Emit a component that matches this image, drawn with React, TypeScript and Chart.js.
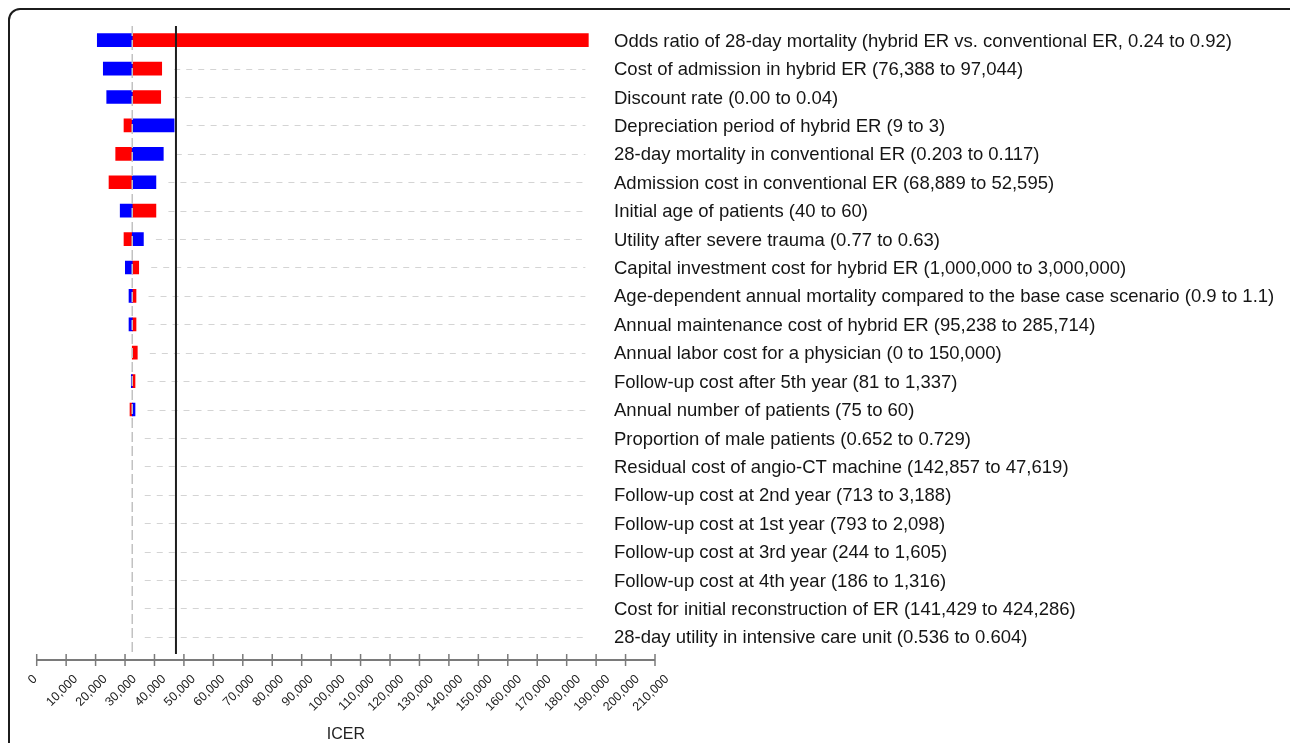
import React, { useEffect, useRef } from "react";
import { Chart, registerables } from "chart.js";

Chart.register(...registerables);

// ---------- data ----------
const categories: string[] = [
  "Odds ratio of 28-day mortality (hybrid ER vs. conventional ER, 0.24 to 0.92)",
  "Cost of admission in hybrid ER (76,388 to 97,044)",
  "Discount rate (0.00 to 0.04)",
  "Depreciation period of hybrid ER (9 to 3)",
  "28-day mortality in conventional ER (0.203 to 0.117)",
  "Admission cost in conventional ER (68,889 to 52,595)",
  "Initial age of patients (40 to 60)",
  "Utility after severe trauma (0.77 to 0.63)",
  "Capital investment cost for hybrid ER (1,000,000 to 3,000,000)",
  "Age-dependent annual mortality compared to the base case scenario (0.9 to 1.1)",
  "Annual maintenance cost of hybrid ER (95,238 to 285,714)",
  "Annual labor cost for a physician (0 to 150,000)",
  "Follow-up cost after 5th year (81 to 1,337)",
  "Annual number of patients (75 to 60)",
  "Proportion of male patients (0.652 to 0.729)",
  "Residual cost of angio-CT machine (142,857 to 47,619)",
  "Follow-up cost at 2nd year (713 to 3,188)",
  "Follow-up cost at 1st year (793 to 2,098)",
  "Follow-up cost at 3rd year (244 to 1,605)",
  "Follow-up cost at 4th year (186 to 1,316)",
  "Cost for initial reconstruction of ER (141,429 to 424,286)",
  "28-day utility in intensive care unit (0.536 to 0.604)",
];

const baseIcer = 32450;
const thresholdIcer = 47300;

// ICER when the parameter takes its first listed value (blue); null = no visible change
const firstValueIcer: (number | null)[] = [
  20580, 22620, 23780, 46670, 43000, 40490, 28360, 36240, 30100, 31350, 31350,
  null, 32130, 33390, null, null, null, null, null, null, null, null,
];

// ICER when the parameter takes its second listed value (red); null = no visible change
const secondValueIcer: (number | null)[] = [
  187360, 42460, 42120, 29650, 26830, 24560, 40490, 29650, 34650, 33730, 33730,
  34170, 33390, 31690, null, null, null, null, null, null, null, null,
];

const xMin = 0;
const xMax = 210000;
const xStep = 10000;

const FONT = '"Liberation Sans", Arial, Helvetica, sans-serif';

const toRange = (arr: (number | null)[]) =>
  arr.map((v) => (v === null ? null : [baseIcer, v]));

const overlayPlugin = {
  id: "tornadoOverlay",
  beforeDatasetsDraw(chart: any) {
    const { ctx, scales } = chart;
    const x = scales.x;
    const y = scales.y;
    const all = [...firstValueIcer, ...secondValueIcer].filter(
      (v) => v !== null
    ) as number[];
    const endPx = x.getPixelForValue(Math.max(...all)) - 3;
    ctx.save();
    ctx.strokeStyle = "#d4d4d4";
    ctx.lineWidth = 1;
    ctx.setLineDash([6, 6]);
    categories.forEach((_, i) => {
      const yy = Math.round(y.getPixelForValue(i)) + 0.5;
      const start =
        x.getPixelForValue(
          Math.max(baseIcer, firstValueIcer[i] ?? baseIcer, secondValueIcer[i] ?? baseIcer)
        ) + 12.5;
      if (start >= endPx) return;
      ctx.beginPath();
      ctx.moveTo(start, yy);
      ctx.lineTo(endPx, yy);
      ctx.stroke();
    });
    ctx.restore();
  },
  afterDatasetsDraw(chart: any) {
    const { ctx, scales, chartArea } = chart;
    const x = scales.x;
    const y = scales.y;
    ctx.save();
    // base case vertical dashed line
    const bx = x.getPixelForValue(baseIcer);
    ctx.strokeStyle = "#c2c2c2";
    ctx.lineWidth = 1.5;
    ctx.setLineDash([10, 4]);
    ctx.beginPath();
    ctx.moveTo(bx, chartArea.top);
    ctx.lineTo(bx, chartArea.bottom + 2);
    ctx.stroke();
    // threshold line
    const tx = x.getPixelForValue(thresholdIcer);
    ctx.setLineDash([]);
    ctx.strokeStyle = "#1e1e1e";
    ctx.lineWidth = 2;
    ctx.beginPath();
    ctx.moveTo(tx, chartArea.top);
    ctx.lineTo(tx, chartArea.bottom + 3);
    ctx.stroke();
    // x axis line
    const ay = chartArea.bottom + 9;
    ctx.strokeStyle = "#7a7a7a";
    ctx.lineWidth = 2;
    ctx.beginPath();
    ctx.moveTo(x.getPixelForValue(xMin), ay);
    ctx.lineTo(x.getPixelForValue(xMax), ay);
    ctx.stroke();
    // ticks + rotated labels (centred under each tick)
    ctx.lineWidth = 1.5;
    ctx.font = `12.5px ${FONT}`;
    ctx.fillStyle = "#222222";
    ctx.textAlign = "center";
    ctx.textBaseline = "middle";
    x.ticks.forEach((t: any) => {
      const px = x.getPixelForValue(t.value);
      ctx.beginPath();
      ctx.moveTo(px, ay - 6);
      ctx.lineTo(px, ay + 6);
      ctx.stroke();
      const label = Number(t.value).toLocaleString("en-US");
      const w = ctx.measureText(label).width;
      const ext = 0.7071 * (w + 9);
      ctx.save();
      ctx.translate(px - 4, ay + 14 + ext / 2);
      ctx.rotate(-Math.PI / 4);
      ctx.fillText(label, 0, 0);
      ctx.restore();
    });
    // category labels to the right of the bars
    ctx.font = `18.5px ${FONT}`;
    ctx.fillStyle = "#151515";
    ctx.textAlign = "left";
    ctx.textBaseline = "middle";
    const labelX = x.right - 41;
    categories.forEach((c, i) => {
      ctx.fillText(c, labelX, y.getPixelForValue(i) + 1.5);
    });
    ctx.restore();
  },
};

export default function App() {
  const ref = useRef<HTMLCanvasElement | null>(null);

  useEffect(() => {
    if (!ref.current) return;
    const chart = new Chart(ref.current, {
      type: "bar",
      data: {
        labels: categories,
        datasets: [
          {
            label: "First value",
            data: toRange(firstValueIcer) as any,
            backgroundColor: "#0000ff",
            borderWidth: 0,
            barThickness: 13,
            grouped: false,
          } as any,
          {
            label: "Second value",
            data: toRange(secondValueIcer) as any,
            backgroundColor: "#ff0000",
            borderWidth: 0,
            barThickness: 13,
            grouped: false,
          } as any,
        ],
      },
      options: {
        indexAxis: "y",
        responsive: false,
        animation: false,
        devicePixelRatio: 1,
        layout: { padding: { left: 36.7, top: 26, right: 0, bottom: 0 } },
        plugins: {
          legend: { display: false },
          tooltip: { enabled: false },
        },
        scales: {
          x: {
            type: "linear",
            min: xMin,
            max: xMax,
            ticks: { stepSize: xStep, display: false },
            grid: { display: false, drawTicks: false },
            border: { display: false },
            title: {
              display: true,
              text: "ICER",
              color: "#222222",
              font: { family: FONT, size: 16, lineHeight: 1 },
              padding: 0,
            },
            afterFit: (s: any) => {
              s.height = 92;
            },
          },
          y: {
            type: "category",
            position: "right",
            grid: { display: false, drawTicks: false },
            border: { display: false },
            ticks: { display: false },
            afterFit: (s: any) => {
              s.width = 635;
            },
          },
        },
      } as any,
      plugins: [overlayPlugin],
    });
    return () => chart.destroy();
  }, []);

  return (
    <div style={{ position: "fixed", left: 0, top: 0, width: 1290, height: 743, overflow: "hidden", background: "#fff" }}>
      <div
        style={{
          position: "absolute",
          left: 8,
          top: 8,
          width: 1320,
          height: 780,
          border: "2px solid #1c1c1c",
          borderRadius: 12,
          boxSizing: "border-box",
        }}
      />
      <canvas ref={ref} width={1290} height={743} style={{ position: "absolute", left: 0, top: 0 }} />
    </div>
  );
}
